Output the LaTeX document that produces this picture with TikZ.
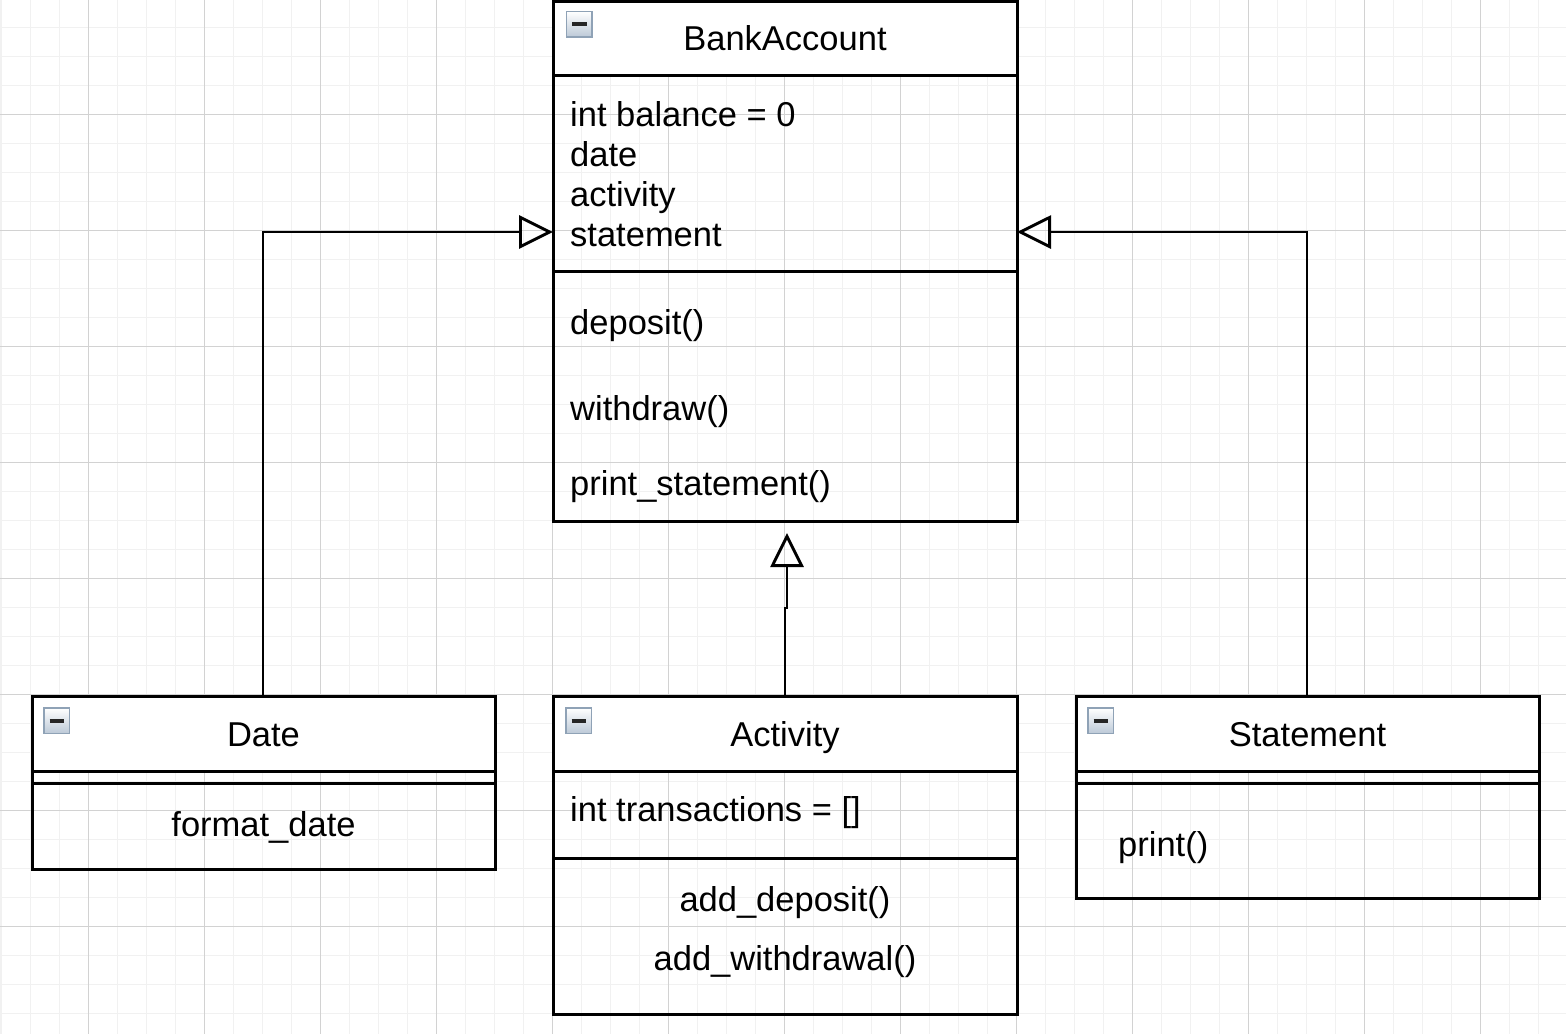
\documentclass[tikz,border=0pt]{standalone}
\usepackage{fontspec}
\setmainfont{Liberation Sans}
\usetikzlibrary{arrows.meta}
\definecolor{gridminor}{HTML}{F1F1F1}
\definecolor{gridmajor}{HTML}{D2D2D2}
\definecolor{iconedge}{HTML}{8FA2B6}
\definecolor{iconbot}{HTML}{BCC9D7}
\tikzset{
  umlbox/.style={draw=black, line width=3pt, minimum width=#1, inner sep=0pt, outer sep=0pt},
  sep/.style={draw=black, line width=3pt},
  attr/.style={anchor=base west, inner sep=0pt},
  ctr/.style={anchor=base, inner sep=0pt},
  inh/.style={line width=2.9pt, -{Triangle[open, length=34pt, width=33pt, line width=2.9pt]}},
  collapseicon/.pic={
    \shade[top color=white, bottom color=iconbot, draw=iconedge, line width=1.4pt] (0,0) rectangle (25.5,25.5);
    \draw[line width=4pt, draw=black!85] (5.5,12.8) -- (20,12.8);
  }
}
\begin{document}
\begin{tikzpicture}[x=1pt, y=-1pt, font=\fontsize{34.5}{40.3}\selectfont]
\useasboundingbox (0,0) rectangle (1566,1034);
\fill[white] (0,0) rectangle (1566,1034);
% grid
\begin{scope}
\clip (0,0) rectangle (1566,1034);
\foreach \i in {0,...,54} \draw[gridminor, line width=1.6pt] (1.3+29*\i,0) -- (1.3+29*\i,1034);
\foreach \i in {0,...,36} \draw[gridminor, line width=1.6pt] (0,-1.7+29*\i) -- (1566,-1.7+29*\i);
\foreach \i in {0,...,12} \draw[gridmajor, line width=1pt] (88.3+116*\i,0) -- (88.3+116*\i,1034);
\foreach \i in {0,...,7} \draw[gridmajor, line width=1pt] (0,114.3+116*\i) -- (1566,114.3+116*\i);
\end{scope}

% ---------- BankAccount ----------
\fill[white] (553,1) rectangle (1017,75);
\node[umlbox=464pt, minimum height=520pt] (ba) at (785,261) {};
\draw[sep] (553,75) -- (1017,75);
\draw[sep] (553,271) -- (1017,271);
\pic at (566.5,11.5) {collapseicon};
\node[ctr] (baT) at (785,50.7) {BankAccount};
\node[attr] (ba1) at (570,126) {int balance = 0};
\node[attr] (ba2) at (570,166.3) {date};
\node[attr] (ba3) at (570,206.6) {activity};
\node[attr] (ba4) at (570,246.9) {statement};
\node[attr] (bam1) at (570,334.3) {deposit()};
\node[attr] (bam2) at (570,420) {withdraw()};
\node[attr] (bam3) at (570,495.5) {print\_statement()};

% ---------- Date ----------
\fill[white] (32,696) rectangle (495,771);
\node[umlbox=463pt, minimum height=173pt] (date) at (263.5,782.5) {};
\draw[sep] (32,771) -- (495,771);
\draw[sep] (32,783) -- (495,783);
\pic at (44,708) {collapseicon};
\node[ctr] (dateT) at (263.5,746.7) {Date};
\node[ctr] (date1) at (263.5,836) {format\_date};

% ---------- Activity ----------
\fill[white] (553,696) rectangle (1017,771);
\node[umlbox=464pt, minimum height=318pt] (act) at (785,855) {};
\draw[sep] (553,771) -- (1017,771);
\draw[sep] (553,858) -- (1017,858);
\pic at (566,708) {collapseicon};
\node[ctr] (actT) at (785,746.7) {Activity};
\node[attr] (act1) at (570,821.7) {int transactions = []};
\node[ctr] (actm1) at (785,911.7) {add\_deposit()};
\node[ctr] (actm2) at (785,970) {add\_withdrawal()};

% ---------- Statement ----------
\fill[white] (1076,696) rectangle (1539,771);
\node[umlbox=463pt, minimum height=202pt] (st) at (1307.5,797) {};
\draw[sep] (1076,771) -- (1539,771);
\draw[sep] (1076,783) -- (1539,783);
\pic at (1088,708) {collapseicon};
\node[ctr] (stT) at (1307.5,746.7) {Statement};
\node[attr] (st1) at (1118,856.7) {print()};

% ---------- connectors ----------
\coordinate (baL) at (553,232);
\coordinate (baR) at (1017,232);
\coordinate (jog) at (787,608);
\draw[inh] (date.north -| 263,0) |- (baL);
\draw[inh] (st.north -| 1307,0) |- (baR);
\draw[inh, shorten >=12pt] (act.north) |- (jog) -- (jog |- ba.south);
\end{tikzpicture}
\end{document}
